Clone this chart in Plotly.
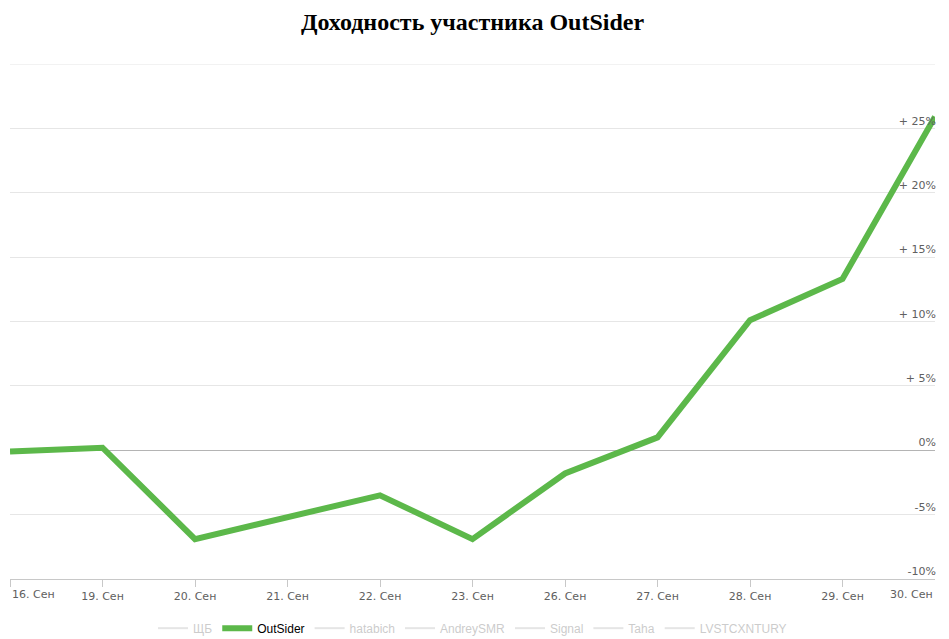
import plotly.graph_objects as go

# Дни торгов (ось X — категории)
days = ["16. Сен", "19. Сен", "20. Сен", "21. Сен", "22. Сен", "23. Сен",
        "26. Сен", "27. Сен", "28. Сен", "29. Сен", "30. Сен"]

# Доходность OutSider, %
outsider = [-0.1, 0.2, -6.9, -5.2, -3.5, -6.9, -1.8, 1.0, 10.1, 13.3, 25.9]

# Остальные участники (скрыты, только в легенде)
hidden_members = ["ЩБ", "hatabich", "AndreySMR", "Signal", "Taha", "LVSTCXNTURY"]

y_ticks = [-10, -5, 0, 5, 10, 15, 20, 25, 30]
y_ticktext = ["-10%", "-5%", "0%", "+ 5%", "+ 10%", "+ 15%", "+ 20%", "+ 25%", ""]

x_idx = list(range(len(days)))
no_data = [None] * len(days)

fig = go.Figure()


def add_hidden(name):
    fig.add_trace(go.Scatter(
        x=x_idx, y=no_data, mode="lines", showlegend=True,
        name="<span style='color:#999999'>%s</span>" % name,
        line=dict(color="#cccccc", width=2), visible="legendonly"
    ))


add_hidden(hidden_members[0])
fig.add_trace(go.Scatter(
    x=x_idx, y=outsider, mode="lines", name="OutSider",
    line=dict(color="#5cb84a", width=6)
))
for name in hidden_members[1:]:
    add_hidden(name)

tick_font = dict(family="DejaVu Sans", size=11, color="#606060")

# Крайние подписи оси X выравниваем внутрь области построения
ticktext = [""] + days[1:-1] + [""]
fig.add_annotation(x=0, y=0, xref="x", yref="paper", text=days[0],
                   xanchor="left", yanchor="top", yshift=-7, showarrow=False,
                   font=tick_font)
fig.add_annotation(x=len(days) - 1, y=0, xref="x", yref="paper", text=days[-1],
                   xanchor="right", yanchor="top", yshift=-7, showarrow=False,
                   font=tick_font)

# верхняя линия сетки (plotly не рисует её на краю области)
fig.add_shape(type="line", xref="paper", yref="y", x0=0, x1=1,
              y0=y_ticks[-1], y1=y_ticks[-1],
              line=dict(color="#e6e6e6", width=1), layer="below")

fig.update_layout(
    width=949, height=639,
    margin=dict(l=10, r=14, t=64, b=60),
    paper_bgcolor="white", plot_bgcolor="white",
    title=dict(text="<b>Доходность участника OutSider</b>", x=0.5, y=0.966,
               xref="paper", yref="container",
               xanchor="center", yanchor="middle",
               font=dict(family="Liberation Serif", size=24, color="#000000")),
    xaxis=dict(
        range=[0, len(days) - 1], automargin=False,
        tickvals=x_idx, ticktext=ticktext,
        showgrid=False, zeroline=False,
        showline=True, linecolor="#c8c8c8", linewidth=1,
        ticks="outside", ticklen=7, tickcolor="#c8c8c8",
        tickfont=tick_font,
    ),
    yaxis=dict(
        range=[-10, 30], side="right", automargin=False,
        tickvals=y_ticks, ticktext=y_ticktext,
        ticklabelposition="inside top", ticklabelstandoff=-4,
        showgrid=True, gridcolor="#e6e6e6", gridwidth=1,
        zeroline=True, zerolinecolor="#b4b4b4", zerolinewidth=1,
        showline=False, ticks="",
        tickfont=tick_font,
    ),
    showlegend=True,
    legend=dict(orientation="h", x=0.5, xanchor="center",
                yref="container", y=0.017, yanchor="middle",
                font=dict(family="Liberation Sans", size=12, color="#000000"),
                itemwidth=30, tracegroupgap=0),
)

fig.write_html("out.html", config={"displayModeBar": False},
               post_script="document.body.style.margin='0';")
